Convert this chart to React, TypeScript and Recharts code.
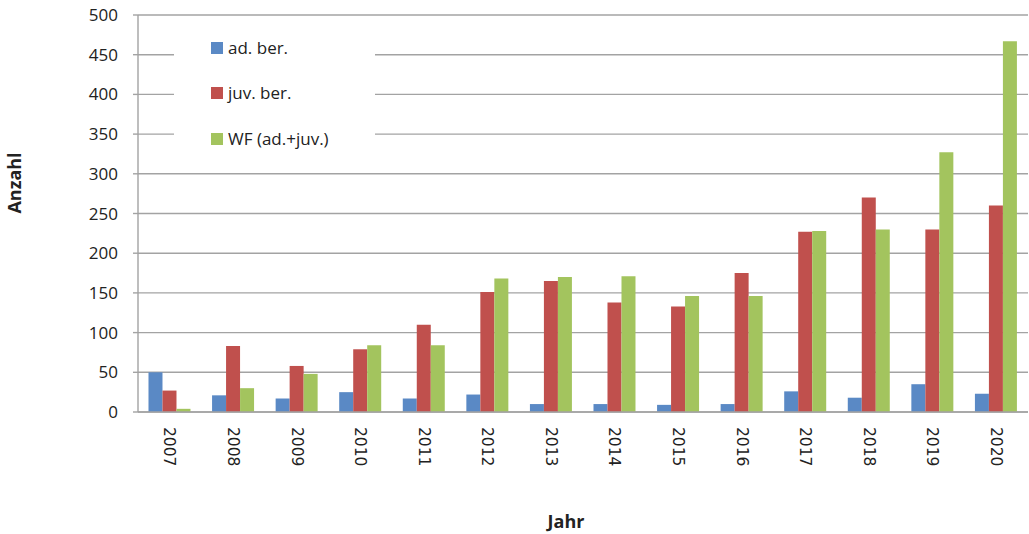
import React from 'react';
import { BarChart, Bar, XAxis, YAxis, CartesianGrid, Legend } from 'recharts';

// Counts per year
const years = ['2007', '2008', '2009', '2010', '2011', '2012', '2013', '2014', '2015', '2016', '2017', '2018', '2019', '2020'];
const adBer = [50, 21, 17, 25, 17, 22, 10, 10, 9, 10, 26, 18, 35, 23];
const juvBer = [27, 83, 58, 79, 110, 151, 165, 138, 133, 175, 227, 270, 230, 260];
const wfAdJuv = [4, 30, 48, 84, 84, 168, 170, 171, 146, 146, 228, 230, 327, 467];
const yTicks = [0, 50, 100, 150, 200, 250, 300, 350, 400, 450, 500];

const series = [
  { key: 'ad', name: 'ad. ber.', color: '#5A89C5' },
  { key: 'juv', name: 'juv. ber.', color: '#C0504D' },
  { key: 'wf', name: 'WF (ad.+juv.)', color: '#A3C45E' },
];

const data = years.map((year, i) => ({
  year,
  ad: adBer[i],
  juv: juvBer[i],
  wf: wfAdJuv[i],
}));

const FONT = '"Open Sans", "Liberation Sans", sans-serif';

function YearTick(props: any) {
  const { x, payload } = props;
  return (
    <text
      x={x}
      y={427}
      transform={`rotate(90, ${x}, 427)`}
      dy="0.35em"
      textAnchor="start"
      fontFamily="'DejaVu Sans', sans-serif"
      fontSize={15.5}
      fill="#222"
    >
      {payload.value}
    </text>
  );
}

function LegendBox() {
  return (
    <div style={{ background: '#fff', width: 201, height: 137, fontFamily: FONT }}>
      {series.map((s) => (
        <div key={s.key} style={{ height: 45.5, display: 'flex', alignItems: 'center', paddingLeft: 37 }}>
          <span style={{ display: 'inline-block', width: 12, height: 12, background: s.color, marginRight: 5 }} />
          <span style={{ fontSize: 17, color: '#222', lineHeight: '20px' }}>{s.name}</span>
        </div>
      ))}
    </div>
  );
}

export default function App() {
  return (
    <div style={{ position: 'absolute', left: 0, top: 0, width: 1029, height: 534, background: '#fff' }}>
      <BarChart
        width={1029}
        height={534}
        data={data}
        margin={{ top: 15, right: 1, bottom: 0, left: 0 }}
        barCategoryGap="16.5%"
        barGap={0}
      >
        <CartesianGrid vertical={false} stroke="#a3a3a3" strokeWidth={1.4} />
        <XAxis
          dataKey="year"
          height={122}
          tickLine={false}
          axisLine={{ stroke: '#a3a3a3', strokeWidth: 1.4 }}
          tick={<YearTick />}
          interval={0}
          label={{
            content: () => (
              <text x={566} y={522} dy="0.35em" textAnchor="middle" fontFamily={FONT} fontWeight="bold" fontSize={18} fill="#222">
                Jahr
              </text>
            ),
          }}
        />
        <YAxis
          width={138}
          domain={[0, 500]}
          ticks={yTicks}
          interval={0}
          tickSize={5}
          tickMargin={15}
          tickLine={{ stroke: '#a3a3a3', strokeWidth: 1.4 }}
          axisLine={{ stroke: '#a3a3a3', strokeWidth: 1.4 }}
          tick={{ fontFamily: FONT, fontSize: 17, fill: '#222' }}
          label={{
            content: () => (
              <text
                x={15}
                y={183}
                transform="rotate(-90, 15, 183)"
                dy="0.35em"
                textAnchor="middle"
                fontFamily={FONT}
                fontWeight="bold"
                fontSize={18}
                fill="#222"
              >
                Anzahl
              </text>
            ),
          }}
        />
        <Legend
          layout="vertical"
          align="center"
          verticalAlign="middle"
          wrapperStyle={{ position: 'absolute', left: 174, top: 25, width: 201, height: 137 }}
          content={() => <LegendBox />}
        />
        {series.map((s) => (
          <Bar key={s.key} dataKey={s.key} name={s.name} fill={s.color} isAnimationActive={false} />
        ))}
      </BarChart>
    </div>
  );
}
